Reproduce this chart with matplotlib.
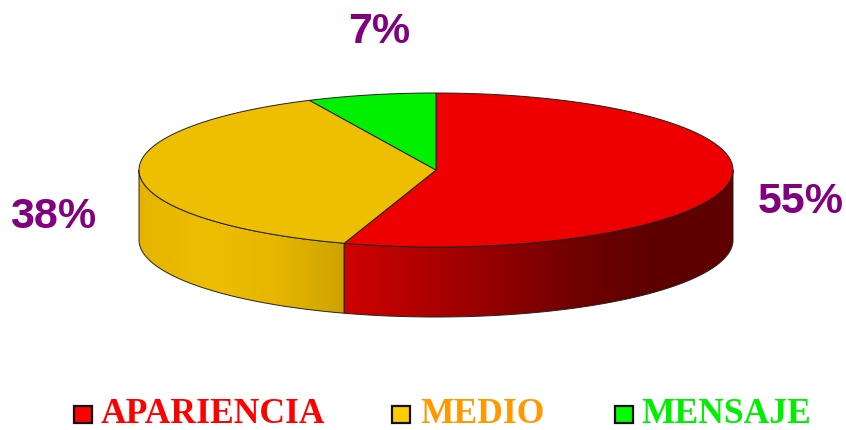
import numpy as np
import matplotlib
matplotlib.use('Agg')
import matplotlib.pyplot as plt
from matplotlib.colors import LinearSegmentedColormap
from matplotlib.patches import Polygon, Rectangle

categories = ['APARIENCIA', 'MEDIO', 'MENSAJE']
values = [55, 38, 7]
top_colors = ['#ee0000', '#eebe00', '#00f000']
box_colors = ['#ff0000', '#ffcc00', '#00ff00']
text_colors = ['#ff0000', '#ff9900', '#00ee00']
label_color = '#800080'

# side gradient colours, left to right
side_red = ['#d00000', '#b00000', '#900000', '#700000', '#5e0000', '#5e0000']
side_yellow = ['#e4b400', '#eebe00', '#e6b600', '#cea300']

cx, cy = 436, 171
rx, ry = 297, 77
depth = 70

fig = plt.figure(figsize=(8.46, 4.31), dpi=100)
ax = fig.add_axes([0, 0, 1, 1])
ax.set_xlim(0, 846)
ax.set_ylim(431, 0)
ax.axis('off')


def ell(frac):
    a = 2 * np.pi * np.asarray(frac)
    return cx + rx * np.sin(a), cy - ry * np.cos(a)


fracs = np.cumsum([0] + values) / sum(values)

# sides, only the front half of the ellipse shows
for i, cmap_cols in [(0, side_red), (1, side_yellow)]:
    lo = max(fracs[i], 0.25)
    hi = min(fracs[i + 1], 0.75)
    t = np.linspace(lo, hi, 200)
    x, y = ell(t)
    pts = np.vstack([np.column_stack([x, y]), np.column_stack([x[::-1], y[::-1] + depth])])
    poly = Polygon(pts, closed=True, fc='none', ec='none')
    ax.add_patch(poly)
    cmap = LinearSegmentedColormap.from_list('side', cmap_cols)
    grad = np.linspace(0, 1, 256).reshape(1, -1)
    im = ax.imshow(grad, cmap=cmap, extent=[x.min(), x.max(), 331, 160], aspect='auto', zorder=1)
    im.set_clip_path(poly)
    ax.add_patch(Polygon(pts, closed=True, fc='none', ec='#222222', lw=0.7, zorder=2))

# top slices
for i, col in enumerate(top_colors):
    t = np.linspace(fracs[i], fracs[i + 1], 200)
    x, y = ell(t)
    pts = np.vstack([[cx, cy], np.column_stack([x, y])])
    ax.add_patch(Polygon(pts, closed=True, fc=col, ec='#222222', lw=0.7, zorder=3))

ax.set_xlim(0, 846)
ax.set_ylim(431, 0)

# percent labels
label_pos = [(801, 202), (53, 217), (379, 32)]
for v, (lx, ly) in zip(values, label_pos):
    ax.text(lx, ly, f'{v}%', color=label_color, fontsize=31, fontweight='bold',
            family='Liberation Sans', ha='center', va='center', zorder=4)

# legend
box_x = [74, 392, 615]
text_x = [101, 420, 641]
for name, col, tc, bx, tx in zip(categories, box_colors, text_colors, box_x, text_x):
    ax.add_patch(Rectangle((bx, 407), 18, 17, fc=col, ec='#111111', lw=1.6, zorder=4))
    ax.text(tx, 415, name, color=tc, fontsize=25.6, fontweight='bold',
            family='Liberation Serif', ha='left', va='center', zorder=4)

fig.savefig('out.png', dpi=100)
